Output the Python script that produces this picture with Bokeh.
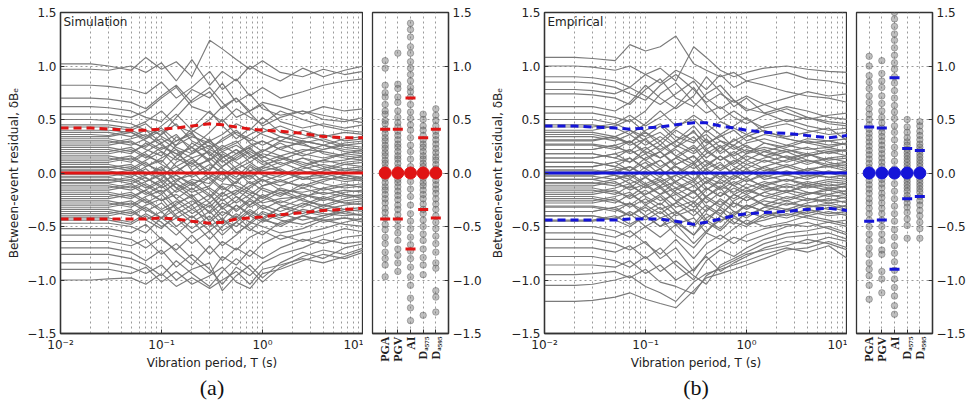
import math
from bokeh.plotting import figure
from bokeh.layouts import row
from bokeh.models import Range1d, FixedTicker, CustomJSTickFormatter, Title, Label
from bokeh.embed import file_html
from bokeh.resources import INLINE

# ---------------- data ----------------
periods = [0.01, 0.02, 0.03, 0.05, 0.07, 0.1, 0.14, 0.2, 0.3, 0.4, 0.55, 0.75, 1.0, 1.5, 2.5, 4.0, 6.5, 10.0]

sim_curves = [
    [1.02,1.02,1.00,0.96,1.08,0.97,1.04,0.90,1.24,1.16,1.06,0.97,1.05,0.94,0.90,0.97,0.92,0.95],
    [0.97,0.97,0.96,1.00,0.94,1.03,0.86,1.06,0.82,0.95,0.86,1.00,0.93,0.86,0.98,0.90,0.96,1.00],
    [0.82,0.82,0.81,0.78,0.74,0.85,0.70,0.80,0.95,0.78,0.88,0.72,0.80,0.70,0.76,0.82,0.86,0.88],
    [0.70,0.70,0.69,0.66,0.60,0.72,0.82,0.66,0.76,0.60,0.70,0.58,0.66,0.62,0.55,0.62,0.58,0.60],
    [0.62,0.62,0.61,0.58,0.52,0.48,0.62,0.78,0.70,0.84,0.66,0.74,0.60,0.54,0.58,0.50,0.48,0.52],
    [0.55,0.55,0.55,0.52,0.58,0.70,0.80,0.62,0.56,0.48,0.60,0.52,0.46,0.58,0.50,0.44,0.40,0.38],
    [0.50,0.50,0.49,0.46,0.40,0.36,0.52,0.68,0.80,0.66,0.52,0.58,0.64,0.48,0.42,0.46,0.42,0.45],
    [0.45,0.45,0.45,0.42,0.48,0.58,0.44,0.38,0.50,0.62,0.70,0.56,0.44,0.52,0.58,0.54,0.50,0.47],
    [0.40,0.40,0.40,0.38,0.32,0.44,0.55,0.40,0.30,0.36,0.46,0.40,0.52,0.38,0.32,0.36,0.30,0.32],
    [0.36,0.36,0.35,0.40,0.46,0.34,0.26,0.42,0.58,0.44,0.32,0.42,0.36,0.30,0.40,0.34,0.38,0.36],
    [0.32,0.32,0.32,0.28,0.24,0.36,0.46,0.30,0.22,0.32,0.40,0.28,0.20,0.30,0.26,0.22,0.28,0.30],
    [0.28,0.28,0.28,0.32,0.36,0.26,0.18,0.24,0.38,0.50,0.36,0.30,0.38,0.44,0.36,0.30,0.24,0.22],
    [0.24,0.24,0.24,0.20,0.26,0.32,0.22,0.14,0.20,0.10,0.18,0.26,0.30,0.22,0.16,0.22,0.26,0.28],
    [0.20,0.20,0.20,0.24,0.16,0.10,0.26,0.34,0.28,0.20,0.12,0.20,0.14,0.24,0.28,0.18,0.14,0.12],
    [0.16,0.16,0.16,0.12,0.20,0.28,0.14,0.06,0.12,0.24,0.30,0.16,0.08,0.12,0.20,0.26,0.22,0.20],
    [0.12,0.12,0.12,0.16,0.08,0.02,0.16,0.24,0.10,-0.02,0.06,0.14,0.22,0.16,0.08,0.12,0.18,0.16],
    [0.08,0.08,0.08,0.04,0.12,0.20,0.06,-0.04,0.04,0.14,0.22,0.10,0.02,0.06,0.14,0.06,0.02,0.04],
    [0.05,0.05,0.05,0.08,0.00,-0.06,0.10,0.18,0.26,0.12,0.00,-0.06,0.04,0.10,0.02,-0.04,0.00,0.02],
    [0.02,0.02,0.02,-0.02,0.06,0.12,-0.02,-0.10,-0.04,0.06,0.16,0.24,0.12,0.02,-0.06,0.02,0.08,0.10],
    [-0.01,-0.01,-0.01,0.03,-0.05,-0.12,0.02,0.10,-0.06,-0.16,-0.08,0.02,-0.08,-0.02,0.06,0.00,-0.06,-0.04],
    [-0.04,-0.04,-0.04,-0.08,-0.02,0.06,-0.10,-0.18,-0.12,0.00,-0.14,-0.20,-0.12,-0.06,-0.14,-0.08,-0.02,-0.06],
    [-0.07,-0.07,-0.07,-0.04,-0.12,-0.20,-0.08,0.02,-0.16,-0.26,-0.18,-0.08,-0.16,-0.22,-0.10,-0.16,-0.12,-0.10],
    [-0.10,-0.10,-0.10,-0.14,-0.08,0.00,-0.14,-0.24,-0.32,-0.20,-0.08,-0.16,-0.24,-0.14,-0.20,-0.24,-0.18,-0.16],
    [-0.14,-0.14,-0.14,-0.10,-0.18,-0.26,-0.16,-0.08,-0.20,-0.34,-0.26,-0.14,-0.06,-0.16,-0.24,-0.14,-0.20,-0.22],
    [-0.18,-0.18,-0.18,-0.22,-0.16,-0.08,-0.24,-0.34,-0.24,-0.12,-0.22,-0.32,-0.26,-0.18,-0.26,-0.30,-0.24,-0.20],
    [-0.22,-0.22,-0.22,-0.18,-0.26,-0.36,-0.30,-0.20,-0.38,-0.28,-0.34,-0.24,-0.32,-0.40,-0.30,-0.22,-0.28,-0.30],
    [-0.26,-0.26,-0.26,-0.30,-0.22,-0.16,-0.32,-0.42,-0.30,-0.44,-0.30,-0.38,-0.44,-0.32,-0.24,-0.32,-0.26,-0.24],
    [-0.30,-0.30,-0.30,-0.26,-0.34,-0.42,-0.28,-0.22,-0.46,-0.36,-0.42,-0.30,-0.22,-0.30,-0.36,-0.40,-0.34,-0.32],
    [-0.34,-0.34,-0.34,-0.38,-0.30,-0.24,-0.40,-0.52,-0.40,-0.54,-0.46,-0.36,-0.42,-0.50,-0.40,-0.34,-0.38,-0.40],
    [-0.38,-0.38,-0.38,-0.34,-0.44,-0.52,-0.38,-0.30,-0.50,-0.42,-0.56,-0.48,-0.38,-0.44,-0.48,-0.42,-0.36,-0.34],
    [-0.42,-0.42,-0.42,-0.46,-0.38,-0.46,-0.58,-0.44,-0.62,-0.50,-0.40,-0.52,-0.58,-0.46,-0.40,-0.46,-0.42,-0.44],
    [-0.47,-0.47,-0.47,-0.50,-0.56,-0.42,-0.52,-0.66,-0.54,-0.68,-0.58,-0.46,-0.50,-0.56,-0.52,-0.44,-0.48,-0.50],
    [-0.52,-0.52,-0.52,-0.56,-0.48,-0.62,-0.72,-0.58,-0.76,-0.64,-0.72,-0.60,-0.54,-0.62,-0.56,-0.52,-0.46,-0.42],
    [-0.58,-0.58,-0.58,-0.62,-0.70,-0.60,-0.74,-0.86,-0.68,-0.82,-0.70,-0.78,-0.66,-0.58,-0.64,-0.58,-0.52,-0.55],
    [-0.64,-0.64,-0.64,-0.68,-0.62,-0.76,-0.66,-0.80,-0.94,-0.78,-0.86,-0.72,-0.80,-0.70,-0.62,-0.66,-0.60,-0.58],
    [-0.70,-0.70,-0.70,-0.74,-0.82,-0.72,-0.88,-0.76,-0.90,-1.04,-0.88,-0.96,-0.84,-0.76,-0.70,-0.62,-0.66,-0.64],
    [-0.76,-0.76,-0.76,-0.80,-0.86,-0.96,-0.82,-0.94,-1.06,-0.92,-0.80,-0.90,-1.02,-0.88,-0.78,-0.72,-0.76,-0.70],
    [-0.84,-0.84,-0.84,-0.88,-0.94,-0.86,-1.00,-0.90,-0.84,-1.10,-0.96,-0.86,-0.98,-0.84,-0.74,-0.80,-0.70,-0.66],
    [-0.90,-0.90,-0.90,-0.94,-0.88,-1.02,-0.92,-1.04,-0.96,-0.88,-1.02,-1.08,-0.94,-0.90,-0.82,-0.76,-0.80,-0.74],
    [-1.00,-1.00,-0.99,-0.98,-1.04,-0.94,-1.06,-0.98,-1.08,-1.00,-0.92,-1.04,-0.90,-0.86,-0.80,-0.84,-0.78,-0.72],
    [0.43,0.43,0.43,0.40,0.34,0.42,0.30,0.36,0.24,0.30,0.38,0.32,0.26,0.34,0.30,0.26,0.32,0.34],
    [0.38,0.38,0.38,0.34,0.40,0.28,0.36,0.20,0.30,0.22,0.28,0.36,0.42,0.34,0.28,0.32,0.26,0.24],
    [0.34,0.34,0.34,0.38,0.30,0.22,0.30,0.38,0.16,0.26,0.18,0.24,0.30,0.22,0.30,0.26,0.20,0.18],
    [0.30,0.30,0.30,0.26,0.32,0.40,0.24,0.18,0.32,0.14,0.22,0.14,0.20,0.28,0.18,0.14,0.18,0.22],
    [0.26,0.26,0.26,0.30,0.22,0.16,0.34,0.24,0.12,0.20,0.26,0.18,0.10,0.16,0.22,0.20,0.16,0.14],
    [0.22,0.22,0.22,0.18,0.28,0.20,0.12,0.28,0.18,0.06,0.14,0.22,0.16,0.08,0.14,0.10,0.12,0.16],
    [0.18,0.18,0.18,0.22,0.14,0.24,0.18,0.08,0.22,0.16,0.04,0.10,0.18,0.14,0.06,0.12,0.08,0.06],
    [0.14,0.14,0.14,0.10,0.18,0.08,0.00,0.12,0.02,0.18,0.10,0.02,0.06,0.14,0.10,0.04,0.10,0.12],
    [0.10,0.10,0.10,0.14,0.06,0.14,0.22,0.02,0.14,0.04,-0.04,0.08,0.00,-0.04,0.04,0.08,0.04,0.02],
    [0.06,0.06,0.06,0.02,0.10,-0.02,0.06,0.14,-0.02,-0.08,0.04,-0.04,0.06,0.02,-0.04,-0.02,0.04,0.06],
    [0.03,0.03,0.03,0.06,-0.02,0.04,-0.06,-0.02,0.08,0.00,-0.10,0.06,-0.02,-0.08,0.00,0.04,-0.02,-0.04],
    [0.00,0.00,0.00,-0.04,0.04,-0.08,-0.02,-0.12,0.00,-0.06,0.02,-0.10,-0.04,0.04,-0.06,-0.04,-0.08,-0.06],
    [-0.03,-0.03,-0.03,0.00,-0.08,-0.02,-0.14,-0.06,-0.10,0.02,-0.06,-0.02,-0.12,-0.08,-0.12,-0.06,-0.04,-0.08],
    [-0.06,-0.06,-0.06,-0.10,-0.04,-0.14,-0.06,-0.16,-0.04,-0.14,-0.20,-0.12,-0.06,-0.12,-0.04,-0.10,-0.14,-0.12],
    [-0.09,-0.09,-0.09,-0.06,-0.14,-0.06,-0.18,-0.10,-0.22,-0.10,-0.12,-0.18,-0.22,-0.16,-0.18,-0.14,-0.10,-0.14],
    [-0.12,-0.12,-0.12,-0.16,-0.10,-0.18,-0.10,-0.22,-0.14,-0.22,-0.16,-0.24,-0.14,-0.20,-0.14,-0.20,-0.16,-0.18],
    [-0.16,-0.16,-0.16,-0.12,-0.20,-0.12,-0.24,-0.14,-0.28,-0.18,-0.28,-0.20,-0.28,-0.24,-0.22,-0.18,-0.22,-0.20],
    [-0.20,-0.20,-0.20,-0.24,-0.16,-0.26,-0.20,-0.30,-0.20,-0.32,-0.22,-0.30,-0.20,-0.28,-0.20,-0.26,-0.20,-0.24],
    [-0.24,-0.24,-0.24,-0.20,-0.28,-0.20,-0.34,-0.26,-0.36,-0.24,-0.36,-0.26,-0.34,-0.26,-0.32,-0.24,-0.28,-0.26],
    [-0.28,-0.28,-0.28,-0.32,-0.24,-0.34,-0.26,-0.38,-0.28,-0.40,-0.30,-0.40,-0.30,-0.36,-0.28,-0.34,-0.30,-0.28],
    [-0.32,-0.32,-0.32,-0.28,-0.36,-0.28,-0.42,-0.34,-0.44,-0.32,-0.44,-0.34,-0.42,-0.32,-0.38,-0.30,-0.34,-0.36],
    [-0.36,-0.36,-0.36,-0.40,-0.32,-0.42,-0.34,-0.46,-0.36,-0.48,-0.38,-0.46,-0.36,-0.42,-0.34,-0.38,-0.40,-0.38],
    [-0.40,-0.40,-0.40,-0.36,-0.44,-0.36,-0.50,-0.40,-0.54,-0.44,-0.50,-0.40,-0.46,-0.38,-0.44,-0.40,-0.36,-0.40],
    [-0.44,-0.44,-0.44,-0.48,-0.40,-0.50,-0.42,-0.56,-0.46,-0.58,-0.46,-0.54,-0.44,-0.48,-0.40,-0.44,-0.42,-0.46],
]

emp_curves = [
    [1.08,1.08,1.07,1.05,1.20,1.14,1.18,1.28,1.02,0.96,0.90,0.94,0.86,0.82,0.76,0.72,0.70,0.66],
    [1.00,1.00,0.99,0.96,1.00,0.92,0.98,0.86,1.18,1.08,0.96,0.90,0.94,0.98,1.00,0.97,0.95,0.94],
    [0.90,0.90,0.89,0.86,0.80,0.92,0.84,0.96,0.88,0.78,0.92,0.80,0.86,0.90,0.94,0.88,0.86,0.83],
    [0.85,0.85,0.84,0.80,0.74,0.68,0.82,0.92,0.78,0.66,0.74,0.66,0.72,0.64,0.70,0.76,0.72,0.74],
    [0.78,0.78,0.77,0.74,0.80,0.72,0.64,0.74,0.86,0.70,0.60,0.68,0.60,0.56,0.62,0.58,0.52,0.50],
    [0.74,0.74,0.73,0.70,0.64,0.78,0.88,0.70,0.62,0.74,0.82,0.68,0.58,0.64,0.56,0.50,0.54,0.56],
    [0.62,0.62,0.62,0.58,0.66,0.82,0.70,0.60,0.72,0.90,0.76,0.62,0.70,0.56,0.48,0.52,0.46,0.44],
    [0.56,0.56,0.56,0.52,0.48,0.58,0.74,0.84,0.66,0.56,0.62,0.52,0.46,0.54,0.60,0.52,0.48,0.46],
    [0.50,0.50,0.50,0.46,0.54,0.44,0.52,0.62,0.80,0.64,0.50,0.58,0.50,0.42,0.46,0.40,0.36,0.38],
    [0.45,0.45,0.45,0.42,0.36,0.46,0.58,0.44,0.50,0.38,0.48,0.42,0.36,0.44,0.50,0.44,0.40,0.42],
    [0.40,0.40,0.40,0.44,0.50,0.38,0.30,0.42,0.54,0.46,0.36,0.44,0.52,0.38,0.34,0.38,0.42,0.30],
    [0.36,0.36,0.36,0.32,0.28,0.40,0.46,0.34,0.28,0.40,0.30,0.26,0.34,0.40,0.32,0.28,0.24,0.28],
    [0.31,0.31,0.31,0.34,0.40,0.30,0.22,0.30,0.44,0.30,0.20,0.32,0.24,0.20,0.26,0.32,0.30,0.26],
    [0.27,0.27,0.27,0.24,0.20,0.32,0.38,0.26,0.18,0.26,0.36,0.24,0.18,0.28,0.22,0.18,0.22,0.20],
    [0.22,0.22,0.22,0.26,0.30,0.20,0.14,0.24,0.34,0.20,0.12,0.18,0.26,0.16,0.10,0.16,0.20,0.22],
    [0.18,0.18,0.18,0.14,0.10,0.22,0.30,0.16,0.08,0.18,0.26,0.14,0.08,0.14,0.20,0.12,0.08,0.10],
    [0.14,0.14,0.14,0.18,0.22,0.12,0.04,0.14,0.24,0.10,0.02,0.10,0.18,0.22,0.14,0.08,0.14,0.16],
    [0.10,0.10,0.10,0.06,0.02,0.14,0.20,0.06,-0.02,0.08,0.16,0.06,0.00,0.06,0.12,0.18,0.10,0.06],
    [0.06,0.06,0.06,0.10,0.14,0.04,-0.04,0.08,0.16,0.02,-0.06,0.04,0.12,0.04,-0.02,0.04,0.06,0.02],
    [0.02,0.02,0.02,-0.02,-0.06,0.06,0.12,0.00,-0.08,0.04,0.10,-0.02,-0.08,0.00,0.06,0.00,-0.04,-0.02],
    [-0.02,-0.02,-0.02,0.02,0.06,-0.04,-0.12,-0.02,0.08,-0.06,-0.14,-0.04,0.04,-0.06,-0.02,-0.06,0.00,-0.04],
    [-0.06,-0.06,-0.06,-0.10,-0.14,-0.04,0.04,-0.10,-0.18,-0.08,0.00,-0.12,-0.18,-0.10,-0.06,-0.12,-0.08,-0.10],
    [-0.10,-0.10,-0.10,-0.06,-0.02,-0.12,-0.20,-0.08,0.02,-0.14,-0.22,-0.10,-0.04,-0.14,-0.18,-0.10,-0.14,-0.12],
    [-0.14,-0.14,-0.14,-0.18,-0.22,-0.12,-0.06,-0.18,-0.28,-0.16,-0.08,-0.20,-0.26,-0.18,-0.12,-0.18,-0.20,-0.16],
    [-0.18,-0.18,-0.18,-0.14,-0.10,-0.22,-0.30,-0.16,-0.08,-0.24,-0.32,-0.20,-0.14,-0.22,-0.26,-0.20,-0.16,-0.20],
    [-0.22,-0.22,-0.22,-0.26,-0.30,-0.20,-0.12,-0.26,-0.36,-0.22,-0.14,-0.28,-0.32,-0.24,-0.18,-0.24,-0.26,-0.22],
    [-0.26,-0.26,-0.26,-0.22,-0.18,-0.30,-0.38,-0.28,-0.16,-0.32,-0.40,-0.26,-0.20,-0.30,-0.34,-0.28,-0.24,-0.28],
    [-0.31,-0.31,-0.31,-0.34,-0.40,-0.30,-0.22,-0.36,-0.48,-0.34,-0.26,-0.36,-0.40,-0.32,-0.26,-0.32,-0.30,-0.34],
    [-0.36,-0.36,-0.36,-0.32,-0.28,-0.40,-0.50,-0.38,-0.28,-0.44,-0.52,-0.38,-0.30,-0.36,-0.40,-0.34,-0.38,-0.36],
    [-0.40,-0.40,-0.40,-0.44,-0.50,-0.40,-0.32,-0.46,-0.58,-0.42,-0.34,-0.46,-0.50,-0.40,-0.34,-0.40,-0.36,-0.40],
    [-0.45,-0.45,-0.45,-0.42,-0.38,-0.50,-0.60,-0.48,-0.66,-0.54,-0.44,-0.40,-0.48,-0.44,-0.38,-0.42,-0.46,-0.44],
    [-0.50,-0.50,-0.50,-0.54,-0.60,-0.50,-0.42,-0.58,-0.70,-0.56,-0.62,-0.52,-0.44,-0.50,-0.46,-0.40,-0.44,-0.48],
    [-0.56,-0.56,-0.56,-0.60,-0.54,-0.66,-0.76,-0.62,-0.80,-0.66,-0.58,-0.66,-0.58,-0.52,-0.48,-0.50,-0.46,-0.50],
    [-0.62,-0.62,-0.62,-0.66,-0.72,-0.64,-0.80,-0.70,-0.92,-0.76,-0.68,-0.60,-0.64,-0.58,-0.50,-0.46,-0.52,-0.58],
    [-0.70,-0.70,-0.70,-0.74,-0.68,-0.80,-0.70,-0.86,-1.00,-0.82,-0.72,-0.78,-0.70,-0.62,-0.56,-0.54,-0.50,-0.56],
    [-0.78,-0.78,-0.78,-0.82,-0.88,-0.78,-0.92,-0.82,-0.96,-1.04,-0.86,-0.80,-0.74,-0.66,-0.60,-0.58,-0.56,-0.62],
    [-0.86,-0.86,-0.86,-0.88,-0.82,-0.94,-0.86,-1.00,-0.90,-0.78,-0.92,-0.84,-0.78,-0.70,-0.64,-0.66,-0.60,-0.64],
    [-0.95,-0.95,-0.94,-0.92,-0.98,-0.90,-1.02,-1.06,-1.13,-0.96,-0.88,-0.82,-0.76,-0.72,-0.68,-0.62,-0.66,-0.72],
    [-1.05,-1.05,-1.04,-1.00,-0.96,-1.06,-1.12,-1.20,-1.02,-0.94,-0.90,-0.86,-0.82,-0.76,-0.70,-0.74,-0.68,-0.80],
    [-1.20,-1.20,-1.19,-1.16,-1.12,-1.18,-1.22,-1.26,-1.10,-0.98,-0.94,-0.90,-0.86,-0.80,-0.72,-0.70,-0.64,-0.70],
    [0.43,0.43,0.43,0.46,0.40,0.34,0.44,0.30,0.38,0.28,0.34,0.40,0.30,0.36,0.32,0.28,0.30,0.32],
    [0.38,0.38,0.38,0.34,0.28,0.38,0.26,0.40,0.30,0.36,0.24,0.30,0.36,0.28,0.24,0.30,0.26,0.28],
    [0.34,0.34,0.34,0.30,0.36,0.26,0.34,0.24,0.40,0.22,0.30,0.22,0.28,0.32,0.26,0.22,0.24,0.20],
    [0.30,0.30,0.30,0.34,0.26,0.32,0.20,0.30,0.20,0.32,0.18,0.26,0.20,0.24,0.20,0.24,0.18,0.22],
    [0.26,0.26,0.26,0.22,0.30,0.18,0.26,0.16,0.26,0.14,0.24,0.16,0.22,0.16,0.22,0.16,0.20,0.16],
    [0.22,0.22,0.22,0.26,0.18,0.24,0.14,0.22,0.10,0.22,0.12,0.20,0.12,0.20,0.14,0.18,0.12,0.14],
    [0.18,0.18,0.18,0.14,0.22,0.12,0.20,0.08,0.16,0.06,0.16,0.08,0.16,0.10,0.16,0.10,0.14,0.10],
    [0.14,0.14,0.14,0.18,0.10,0.18,0.06,0.14,0.04,0.12,0.04,0.12,0.04,0.12,0.06,0.12,0.06,0.08],
    [0.10,0.10,0.10,0.06,0.14,0.04,0.12,0.00,0.10,-0.02,0.08,0.00,0.08,0.02,0.08,0.02,0.08,0.04],
    [0.06,0.06,0.06,0.10,0.02,0.10,-0.02,0.06,-0.06,0.04,-0.04,0.04,-0.04,0.06,-0.02,0.04,0.00,0.02],
    [0.03,0.03,0.03,0.00,0.06,-0.02,0.04,-0.08,0.02,-0.10,0.00,-0.06,0.02,-0.04,0.02,-0.04,0.02,-0.02],
    [0.00,0.00,0.00,0.04,-0.04,0.02,-0.08,-0.02,-0.12,-0.04,-0.10,-0.02,-0.08,-0.02,-0.08,-0.02,-0.04,-0.06],
    [-0.03,-0.03,-0.03,-0.06,0.00,-0.10,-0.04,-0.14,-0.06,-0.16,-0.06,-0.12,-0.06,-0.12,-0.06,-0.10,-0.06,-0.08],
    [-0.06,-0.06,-0.06,-0.02,-0.10,-0.04,-0.14,-0.08,-0.18,-0.08,-0.16,-0.08,-0.14,-0.08,-0.14,-0.08,-0.12,-0.10],
    [-0.09,-0.09,-0.09,-0.12,-0.06,-0.14,-0.08,-0.20,-0.12,-0.22,-0.12,-0.18,-0.10,-0.16,-0.10,-0.14,-0.10,-0.14],
    [-0.12,-0.12,-0.12,-0.08,-0.16,-0.10,-0.20,-0.14,-0.24,-0.14,-0.22,-0.14,-0.20,-0.12,-0.18,-0.12,-0.16,-0.12],
    [-0.16,-0.16,-0.16,-0.20,-0.12,-0.20,-0.14,-0.26,-0.18,-0.28,-0.18,-0.24,-0.16,-0.22,-0.16,-0.20,-0.14,-0.18],
    [-0.20,-0.20,-0.20,-0.16,-0.24,-0.16,-0.26,-0.20,-0.32,-0.22,-0.30,-0.20,-0.26,-0.18,-0.24,-0.18,-0.22,-0.20],
    [-0.24,-0.24,-0.24,-0.28,-0.20,-0.28,-0.20,-0.32,-0.26,-0.36,-0.24,-0.32,-0.22,-0.30,-0.22,-0.26,-0.20,-0.24],
    [-0.28,-0.28,-0.28,-0.24,-0.32,-0.24,-0.34,-0.28,-0.40,-0.30,-0.38,-0.28,-0.34,-0.26,-0.30,-0.24,-0.28,-0.26],
    [-0.32,-0.32,-0.32,-0.36,-0.28,-0.36,-0.28,-0.40,-0.34,-0.46,-0.32,-0.40,-0.30,-0.36,-0.28,-0.32,-0.28,-0.32],
    [-0.36,-0.36,-0.36,-0.32,-0.40,-0.32,-0.42,-0.36,-0.50,-0.38,-0.46,-0.36,-0.42,-0.32,-0.36,-0.30,-0.34,-0.30],
    [-0.40,-0.40,-0.40,-0.44,-0.36,-0.44,-0.36,-0.48,-0.42,-0.56,-0.40,-0.48,-0.36,-0.42,-0.34,-0.38,-0.32,-0.36],
    [-0.44,-0.44,-0.44,-0.40,-0.48,-0.40,-0.50,-0.44,-0.58,-0.46,-0.54,-0.42,-0.48,-0.38,-0.42,-0.36,-0.40,-0.38],
]

mean_periods = [0.01, 10.0]
sim_mean = [0.0, 0.0]
emp_mean = [0.0, 0.0]
sim_sigma_up = [0.42,0.42,0.41,0.40,0.40,0.41,0.42,0.44,0.46,0.45,0.43,0.41,0.40,0.39,0.37,0.34,0.33,0.33]
sim_sigma_lo = [-0.43,-0.43,-0.43,-0.43,-0.43,-0.42,-0.43,-0.45,-0.47,-0.46,-0.43,-0.42,-0.41,-0.39,-0.37,-0.35,-0.34,-0.33]
emp_sigma_up = [0.44,0.44,0.43,0.42,0.41,0.42,0.43,0.45,0.47,0.47,0.44,0.42,0.40,0.38,0.37,0.35,0.33,0.35]
emp_sigma_lo = [-0.44,-0.44,-0.44,-0.44,-0.43,-0.43,-0.43,-0.45,-0.48,-0.46,-0.43,-0.40,-0.38,-0.37,-0.36,-0.34,-0.33,-0.35]

x_tick_values = [0.01, 0.1, 1.0, 10.0]
y_tick_values = [-1.5, -1.0, -0.5, 0.0, 0.5, 1.0, 1.5]
cat_labels = ["PGA", "PGV", "AI", "D\u2090\u2085\u2087\u2085", "D\u2090\u2085\u2089\u2085"]
cat_pos = [1, 2, 3, 4, 5]

sim_cat_mean = [0.0, 0.0, 0.0, 0.0, 0.0]
sim_cat_up = [0.41, 0.41, 0.70, 0.33, 0.41]
sim_cat_lo = [-0.43, -0.43, -0.71, -0.34, -0.42]
emp_cat_mean = [0.0, 0.0, 0.0, 0.0, 0.0]
emp_cat_up = [0.43, 0.42, 0.89, 0.23, 0.21]
emp_cat_lo = [-0.45, -0.44, -0.90, -0.24, -0.22]

sim_pga = [1.05, 0.98, 0.82, 0.75, 0.71, 0.64, 0.58, 0.55, 0.49, 0.46, 0.41, 0.37, 0.33, 0.30, 0.26, 0.23, 0.19, 0.16, 0.12, 0.09, 0.05, 0.02, -0.02, -0.05, -0.09, -0.13, -0.16, -0.20, -0.24, -0.28, -0.33, -0.37, -0.42, -0.48, -0.53, -0.60, -0.66, -0.74, -0.80, -0.86, -0.97]
sim_pgv = [1.12, 0.83, 0.79, 0.71, 0.66, 0.58, 0.52, 0.47, 0.43, 0.39, 0.35, 0.31, 0.27, 0.24, 0.20, 0.16, 0.13, 0.09, 0.05, 0.02, -0.02, -0.06, -0.09, -0.13, -0.17, -0.21, -0.25, -0.30, -0.34, -0.39, -0.44, -0.50, -0.56, -0.63, -0.71, -0.77, -0.84, -0.92]
sim_ai = [1.40, 1.34, 1.27, 1.18, 1.12, 1.04, 0.98, 0.92, 0.86, 0.80, 0.76, 0.71, 0.64, 0.57, 0.51, 0.45, 0.40, 0.33, 0.26, 0.20, 0.13, 0.06, -0.01, -0.08, -0.15, -0.22, -0.30, -0.38, -0.45, -0.52, -0.60, -0.67, -0.73, -0.80, -0.88, -0.97, -1.05, -1.17, -1.26, -1.38]
sim_d575 = [0.55, 0.50, 0.44, 0.40, 0.35, 0.31, 0.27, 0.24, 0.20, 0.16, 0.13, 0.09, 0.06, 0.02, -0.01, -0.05, -0.09, -0.12, -0.16, -0.20, -0.24, -0.29, -0.34, -0.38, -0.44, -0.50, -0.57, -0.63, -0.71, -0.79, -0.86, -0.95, -1.33]
sim_d595 = [0.60, 0.54, 0.49, 0.44, 0.39, 0.35, 0.31, 0.27, 0.23, 0.19, 0.15, 0.12, 0.08, 0.04, 0.01, -0.03, -0.07, -0.11, -0.15, -0.19, -0.24, -0.29, -0.34, -0.40, -0.46, -0.52, -0.59, -0.66, -0.74, -0.84, -0.89, -1.10, -1.16, -1.30]

emp_pga = [1.09, 1.00, 0.91, 0.85, 0.79, 0.72, 0.66, 0.60, 0.55, 0.50, 0.45, 0.41, 0.37, 0.33, 0.29, 0.25, 0.21, 0.17, 0.13, 0.09, 0.05, 0.01, -0.03, -0.07, -0.11, -0.15, -0.19, -0.24, -0.28, -0.33, -0.38, -0.44, -0.50, -0.57, -0.63, -0.70, -0.76, -0.84, -0.90, -0.96, -1.05, -1.18]
emp_pgv = [1.05, 0.93, 0.86, 0.80, 0.72, 0.65, 0.58, 0.52, 0.47, 0.42, 0.38, 0.34, 0.30, 0.26, 0.22, 0.18, 0.14, 0.10, 0.06, 0.02, -0.02, -0.06, -0.10, -0.14, -0.19, -0.23, -0.28, -0.33, -0.38, -0.44, -0.50, -0.57, -0.63, -0.72, -0.76, -0.92, -0.99, -1.12]
emp_ai = [1.50, 1.44, 1.37, 1.30, 1.24, 1.17, 1.10, 1.03, 0.97, 0.90, 0.84, 0.77, 0.70, 0.63, 0.57, 0.51, 0.44, 0.38, 0.31, 0.24, 0.18, 0.11, 0.04, -0.03, -0.10, -0.17, -0.24, -0.31, -0.38, -0.45, -0.53, -0.60, -0.68, -0.75, -0.83, -0.91, -0.99, -1.07, -1.15, -1.24, -1.32]
emp_d575 = [0.50, 0.43, 0.38, 0.33, 0.29, 0.26, 0.22, 0.19, 0.16, 0.13, 0.10, 0.07, 0.04, 0.01, -0.02, -0.05, -0.08, -0.11, -0.14, -0.17, -0.21, -0.24, -0.28, -0.32, -0.37, -0.43, -0.49, -0.61]
emp_d595 = [0.48, 0.44, 0.39, 0.35, 0.31, 0.27, 0.24, 0.21, 0.18, 0.15, 0.12, 0.09, 0.06, 0.03, 0.00, -0.03, -0.06, -0.09, -0.12, -0.15, -0.18, -0.22, -0.26, -0.30, -0.35, -0.40, -0.46, -0.52, -0.61]

RED = "#e01414"
BLUE = "#1414d8"
GRAY = "#747474"
FONT = "DejaVu Sans"
YLABEL = "Between-event residual, \u03b4B\u2091"

y_fmt = CustomJSTickFormatter(code="return tick.toFixed(1).replace('-', '\u2212');")
x_fmt = CustomJSTickFormatter(code="""
const e = Math.round(Math.log10(tick));
const sup = {'-':'\u207b','0':'\u2070','1':'\u00b9','2':'\u00b2','3':'\u00b3'};
return '10' + String(e).split('').map(c => sup[c]).join('');
""")


def style_common(p):
    p.outline_line_color = "#333333"
    p.outline_line_width = 1.3
    p.background_fill_color = "white"
    p.border_fill_color = "white"
    for ax in p.axis:
        ax.axis_line_color = "#333333"
        ax.axis_line_width = 1.3
        ax.major_tick_in = 4
        ax.major_tick_out = 0
        ax.minor_tick_in = 0
        ax.minor_tick_out = 0
        ax.major_tick_line_color = "#333333"
        ax.major_label_text_font = FONT
        ax.major_label_text_font_size = "12px"
        ax.major_label_text_color = "#222222"
        ax.major_label_standoff = 4
        ax.axis_label_text_font = FONT
        ax.axis_label_text_font_size = "12px"
        ax.axis_label_text_font_style = "normal"
        ax.axis_label_text_color = "#222222"
    p.grid.grid_line_color = "#9a9a9a"
    p.grid.grid_line_dash = "2 3"
    p.grid.grid_line_width = 1


def main_fig(curves, up, lo, mean, color, name, border_left, panel):
    p = figure(x_axis_type="log", x_range=Range1d(0.01, 10), y_range=Range1d(-1.5, 1.5),
               frame_width=303, frame_height=321, min_border_left=border_left, min_border_right=0,
               min_border_top=12, min_border_bottom=74, output_backend="svg", toolbar_location=None)
    minor = [m * 10 ** e for e in range(-2, 1) for m in range(2, 10)]
    p.xaxis.ticker = FixedTicker(ticks=x_tick_values, minor_ticks=minor)
    p.xaxis.formatter = x_fmt
    p.yaxis.ticker = FixedTicker(ticks=y_tick_values, minor_ticks=[])
    p.yaxis.formatter = y_fmt
    p.xaxis.axis_label = "Vibration period, T (s)"
    p.yaxis.axis_label = YLABEL
    style_common(p)
    p.xgrid.minor_grid_line_color = "#9a9a9a"
    p.xgrid.minor_grid_line_dash = "2 3"
    p.yaxis.axis_label_standoff = 3
    p.xaxis.axis_label_standoff = 1

    p.multi_line(xs=[periods] * len(curves), ys=curves, line_color=GRAY, line_width=1.15, line_alpha=0.95)
    p.line(mean_periods, mean, line_color=color, line_width=3)
    p.line(periods, up, line_color=color, line_width=3, line_dash="8 5")
    p.line(periods, lo, line_color=color, line_width=3, line_dash="8 5")

    p.add_layout(Label(x=0.0107, y=1.35, text=name, text_font=FONT, text_font_size="12px",
                       text_color="#222222"))
    p.add_layout(Title(text=panel, align="center", text_font="Liberation Serif", standoff=0,
                       text_font_size="22px", text_font_style="normal", text_color="#111111"), "below")
    return p


def small_fig(cols, up, lo, mean, color, border_right):
    p = figure(x_range=Range1d(0, 6), y_range=Range1d(-1.5, 1.5),
               frame_width=76, frame_height=321, min_border_left=9, min_border_right=border_right,
               min_border_top=12, min_border_bottom=74, y_axis_location="right",
               output_backend="svg", toolbar_location=None)
    p.xaxis.ticker = FixedTicker(ticks=cat_pos, minor_ticks=[])
    p.xaxis.formatter = CustomJSTickFormatter(args=dict(labels=cat_labels),
                                              code="return labels[Math.round(tick) - 1] || '';")
    p.xaxis.major_label_orientation = math.pi / 2
    p.yaxis.ticker = FixedTicker(ticks=y_tick_values, minor_ticks=[])
    p.yaxis.formatter = y_fmt
    style_common(p)
    p.xaxis.major_label_text_font = "Liberation Serif"
    p.xaxis.major_label_text_font_style = "bold"
    p.xaxis.major_label_text_font_size = "12px"
    p.xaxis.major_label_standoff = 3

    for i, vals in enumerate(cols):
        p.scatter([cat_pos[i]] * len(vals), vals, size=6.5, fill_color="#707070", fill_alpha=0.45,
                  line_color="#505050", line_alpha=0.5, line_width=0.8)
    p.scatter(cat_pos, mean, size=12, fill_color=color, line_color=color)
    p.scatter(cat_pos, up, marker="dash", size=10, line_color=color, line_width=3)
    p.scatter(cat_pos, lo, marker="dash", size=10, line_color=color, line_width=3)
    return p


pa = main_fig(sim_curves, sim_sigma_up, sim_sigma_lo, sim_mean, RED, "Simulation", 60, "(a)")
sa = small_fig([sim_pga, sim_pgv, sim_ai, sim_d575, sim_d595], sim_cat_up, sim_cat_lo, sim_cat_mean, RED, 39)
pb = main_fig(emp_curves, emp_sigma_up, emp_sigma_lo, emp_mean, BLUE, "Empirical", 57, "(b)")
sb = small_fig([emp_pga, emp_pgv, emp_ai, emp_d575, emp_d595], emp_cat_up, emp_cat_lo, emp_cat_mean, BLUE, 41)

layout = row(pa, sa, pb, sb, spacing=0)
open("out.html", "w").write(file_html(layout, INLINE))
